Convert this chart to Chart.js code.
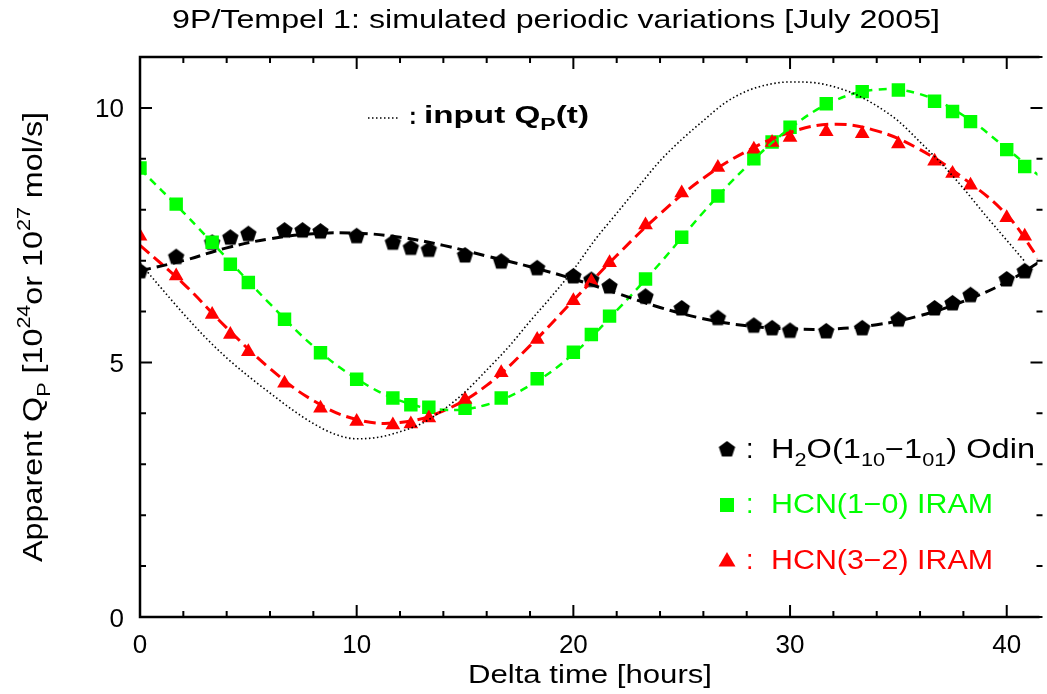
<!DOCTYPE html>
<html>
<head>
<meta charset="utf-8">
<script src="https://cdn.jsdelivr.net/npm/chart.js@4.4.0/dist/chart.umd.min.js"></script>
<style>
  body { margin: 0; background: #fff; }
  canvas { display: block; }
</style>
</head>
<body>
<canvas id="qpChart" width="1047" height="694"></canvas>
<script>
// --- data ---
const h2oTimes = [0, 1.67, 3.33, 4.17, 5.0, 6.67, 7.5, 8.33, 10.0, 11.67, 12.5, 13.33, 15.0, 16.67, 18.33, 20.0, 20.83, 21.67, 23.33, 25.0, 26.67, 28.33, 29.17, 30.0, 31.67, 33.33, 35.0, 36.67, 37.5, 38.33, 40.0, 40.83];
const h2oObs = [6.80, 7.08, 7.36, 7.46, 7.53, 7.60, 7.60, 7.58, 7.49, 7.36, 7.26, 7.22, 7.11, 6.99, 6.86, 6.70, 6.63, 6.50, 6.30, 6.07, 5.88, 5.73, 5.68, 5.63, 5.62, 5.68, 5.85, 6.07, 6.17, 6.33, 6.64, 6.80];

const hcnTimes = [0, 1.67, 3.33, 4.17, 5.0, 6.67, 8.33, 10.0, 11.67, 12.5, 13.33, 15.0, 16.67, 18.33, 20.0, 20.83, 21.67, 23.33, 25.0, 26.67, 28.33, 29.17, 30.0, 31.67, 33.33, 35.0, 36.67, 37.5, 38.33, 40.0, 40.83];
const hcn10Obs = [8.82, 8.11, 7.36, 6.93, 6.57, 5.85, 5.19, 4.67, 4.30, 4.17, 4.12, 4.10, 4.30, 4.68, 5.20, 5.55, 5.91, 6.64, 7.46, 8.27, 9.00, 9.33, 9.62, 10.08, 10.32, 10.35, 10.13, 9.93, 9.73, 9.18, 8.85];
const hcn32Obs = [7.48, 6.70, 5.94, 5.55, 5.21, 4.59, 4.10, 3.84, 3.77, 3.79, 3.91, 4.27, 4.80, 5.45, 6.21, 6.59, 6.96, 7.70, 8.33, 8.83, 9.19, 9.32, 9.42, 9.53, 9.49, 9.29, 8.95, 8.71, 8.48, 7.84, 7.48];

// simulated (dashed) curves
const modelTimes = [0, 2, 4, 6, 8, 10, 12, 14, 16, 18, 20, 22, 24, 26, 28, 30, 32, 34, 36, 38, 40, 41.45];
const h2oModel = [6.80, 7.00, 7.25, 7.43, 7.53, 7.54, 7.46, 7.30, 7.09, 6.88, 6.64, 6.36, 6.08, 5.86, 5.72, 5.66, 5.66, 5.74, 5.92, 6.20, 6.58, 6.96];
const hcn10Model = [8.80, 7.95, 7.05, 6.15, 5.32, 4.68, 4.25, 4.07, 4.17, 4.55, 5.17, 6.02, 6.95, 7.95, 8.85, 9.60, 10.13, 10.36, 10.27, 9.85, 9.20, 8.68];
const hcn32Model = [7.30, 6.55, 5.68, 4.88, 4.25, 3.88, 3.82, 4.05, 4.55, 5.33, 6.22, 7.10, 7.92, 8.62, 9.15, 9.52, 9.68, 9.55, 9.18, 8.62, 7.90, 7.05];

// input Q_P(t) (dotted)
const inputTimes = [0, 1, 2, 3, 4, 5, 6, 7, 8, 9, 10, 11, 12, 13, 14, 15, 16, 17, 18, 19, 20, 21, 22, 23, 24, 25, 26, 27, 28, 29, 30, 31, 32, 33, 34, 35, 36, 37, 38, 39, 40, 40.8];
const inputQp = [6.95, 6.45, 5.96, 5.50, 5.09, 4.73, 4.40, 4.08, 3.80, 3.59, 3.50, 3.53, 3.64, 3.80, 4.07, 4.42, 4.85, 5.30, 5.81, 6.30, 6.82, 7.41, 7.93, 8.45, 8.96, 9.38, 9.75, 10.10, 10.33, 10.46, 10.51, 10.50, 10.42, 10.27, 10.04, 9.74, 9.33, 8.90, 8.42, 7.90, 7.40, 7.00];

// axis ticks
const xMajorTicks = [0, 10, 20, 30, 40];
const yMajorTicks = [0, 5, 10];
const xMinorStep = 2;
const yMinorStep = 1;

const GREEN = '#00ff00';
const RED = '#ff0000';
const FONT = '"Liberation Sans", Arial, sans-serif';

function pts(xs, ys) {
  return xs.map((x, i) => ({ x: x, y: ys[i] }));
}

// pentagon marker as a canvas (Chart.js has no pentagon style)
function makePentagon(R, color) {
  const c = document.createElement('canvas');
  const w = Math.ceil(2 * R * Math.sin(2 * Math.PI / 5)) + 2;
  const h = Math.ceil(R * (1 + Math.cos(Math.PI / 5))) + 2;
  c.width = w; c.height = h;
  const g = c.getContext('2d');
  g.beginPath();
  for (let i = 0; i < 5; i++) {
    const a = -Math.PI / 2 + i * 2 * Math.PI / 5;
    g.lineTo(w / 2 + R * Math.cos(a), 1 + R + R * Math.sin(a));
  }
  g.closePath();
  g.fillStyle = color;
  g.fill();
  return c;
}
const pentagon = makePentagon(8.6, '#000');

// text with sub/superscripts, squeezed to a target width
// parts: [text, shift] with shift 0 normal, -1 subscript, 1 superscript
function drawRich(ctx, parts, x, y, size, color, width, weight) {
  weight = weight || 'normal';
  const fontFor = s => weight + ' ' + (s === 0 ? size : Math.round(size * 0.68)) + 'px ' + FONT;
  let total = 0;
  parts.forEach(p => { ctx.font = fontFor(p[1]); total += ctx.measureText(p[0]).width; });
  const k = width ? width / total : 1;
  ctx.save();
  ctx.translate(x, y);
  ctx.scale(k, 1);
  ctx.fillStyle = color;
  ctx.textBaseline = 'alphabetic';
  ctx.textAlign = 'left';
  let cx = 0;
  parts.forEach(p => {
    ctx.font = fontFor(p[1]);
    const dy = p[1] === -1 ? size * 0.3 : (p[1] === 1 ? -size * 0.45 : 0);
    ctx.fillText(p[0], cx, dy);
    cx += ctx.measureText(p[0]).width;
  });
  ctx.restore();
}

const framePlugin = {
  id: 'frame',
  afterDatasetsDraw(chart) {
    const ctx = chart.ctx;
    const a = chart.chartArea;
    const xs = chart.scales.x, ys = chart.scales.y;
    const rightAxis = a.right + 5;

    ctx.save();
    ctx.strokeStyle = '#000';
    ctx.lineWidth = 2.5;
    ctx.beginPath();
    ctx.moveTo(a.right + 2, a.top); ctx.lineTo(a.left, a.top);
    ctx.lineTo(a.left, a.bottom); ctx.lineTo(a.right + 2, a.bottom);
    ctx.stroke();

    // inward ticks on all four sides
    ctx.lineWidth = 2;
    ctx.beginPath();
    for (let v = 0; v <= xs.max; v += xMinorStep) {
      const px = xs.getPixelForValue(v);
      const len = xMajorTicks.includes(v) ? 12 : 6;
      ctx.moveTo(px, a.bottom); ctx.lineTo(px, a.bottom - len);
      ctx.moveTo(px, a.top); ctx.lineTo(px, a.top + len);
    }
    for (let v = 0; v <= ys.max; v += yMinorStep) {
      const py = ys.getPixelForValue(v);
      const len = yMajorTicks.includes(v) ? 12 : 6;
      ctx.moveTo(a.left, py); ctx.lineTo(a.left + len, py);
      ctx.moveTo(rightAxis, py); ctx.lineTo(rightAxis - len, py);
    }
    ctx.stroke();

    // tick labels
    ctx.fillStyle = '#000';
    ctx.font = '26px ' + FONT;
    ctx.textAlign = 'center';
    ctx.textBaseline = 'alphabetic';
    xMajorTicks.forEach(v => ctx.fillText(String(v), xs.getPixelForValue(v), 653));
    ctx.textAlign = 'right';
    yMajorTicks.forEach(v => ctx.fillText(String(v), 124, ys.getPixelForValue(v) + 9.5));

    // title and axis titles
    drawRich(ctx, [['9P/Tempel 1: simulated periodic variations [July 2005]', 0]], 172, 28, 25, '#000', 768);
    drawRich(ctx, [['Delta time [hours]', 0]], 468, 683, 25, '#000', 244);
    ctx.save();
    ctx.translate(42, 562);
    ctx.rotate(-Math.PI / 2);
    drawRich(ctx, [['Apparent Q', 0], ['P', -1], [' [10', 0], ['24', 1], ['or 10', 0], ['27', 1], [' mol/s]', 0]], 0, 0, 27, '#000', 450);
    ctx.restore();

    // legend: input curve
    ctx.lineWidth = 1.5;
    ctx.setLineDash([1.5, 2.5]);
    ctx.beginPath();
    ctx.moveTo(368, 118); ctx.lineTo(399, 118);
    ctx.stroke();
    ctx.setLineDash([]);
    drawRich(ctx, [[':', 0]], 409, 124, 23, '#000', null, 'bold');
    drawRich(ctx, [['input Q', 0], ['P', -1], ['(t)', 0]], 424, 123, 23, '#000', 165, 'bold');

    // legend: observed series
    ctx.drawImage(pentagon, 727 - pentagon.width / 2, 449 - pentagon.height / 2);
    drawRich(ctx, [[':', 0]], 746, 458, 27, '#000');
    drawRich(ctx, [['H', 0], ['2', -1], ['O(1', 0], ['10', -1], ['\u22121', 0], ['01', -1], [') Odin', 0]], 771, 458, 27, '#000', 264);

    ctx.fillStyle = GREEN;
    ctx.fillRect(720, 498, 14, 14);
    drawRich(ctx, [[':', 0]], 746, 513, 27, GREEN);
    drawRich(ctx, [['HCN(1\u22120) IRAM', 0]], 771, 513, 27, GREEN, 222);

    ctx.fillStyle = RED;
    ctx.beginPath();
    ctx.moveTo(727, 552); ctx.lineTo(735.5, 566.5); ctx.lineTo(718.5, 566.5);
    ctx.closePath(); ctx.fill();
    drawRich(ctx, [[':', 0]], 746, 569, 27, RED);
    drawRich(ctx, [['HCN(3\u22122) IRAM', 0]], 771, 569, 27, RED, 222);
    ctx.restore();
  }
};

const ctx = document.getElementById('qpChart').getContext('2d');
new Chart(ctx, {
  type: 'scatter',
  data: {
    datasets: [
      {
        label: 'input Q_P(t)', data: pts(inputTimes, inputQp), showLine: true,
        borderColor: '#000', borderWidth: 1.6, borderDash: [1.5, 2.5], pointRadius: 0,
        cubicInterpolationMode: 'monotone', order: 0
      },
      {
        label: 'H2O model', data: pts(modelTimes, h2oModel), showLine: true,
        borderColor: '#000', borderWidth: 3, borderDash: [11, 6], pointRadius: 0, tension: 0.4, order: 0
      },
      {
        label: 'HCN(1-0) model', data: pts(modelTimes, hcn10Model), showLine: true,
        borderColor: GREEN, borderWidth: 2.5, borderDash: [8, 6], pointRadius: 0, tension: 0.4, order: 0
      },
      {
        label: 'HCN(3-2) model', data: pts(modelTimes, hcn32Model), showLine: true,
        borderColor: RED, borderWidth: 3, borderDash: [12, 6], pointRadius: 0, tension: 0.4, order: 0
      },
      {
        label: 'HCN(3-2) IRAM', data: pts(hcnTimes, hcn32Obs), showLine: false,
        pointStyle: 'triangle', pointRadius: 8.5, backgroundColor: RED, borderColor: RED, borderWidth: 0, order: 1
      },
      {
        label: 'HCN(1-0) IRAM', data: pts(hcnTimes, hcn10Obs), showLine: false,
        pointStyle: 'rect', pointRadius: 9.5, backgroundColor: GREEN, borderColor: GREEN, borderWidth: 0, order: 2
      },
      {
        label: 'H2O Odin', data: pts(h2oTimes, h2oObs), showLine: false,
        pointStyle: pentagon, pointRadius: 8, order: 3
      }
    ]
  },
  options: {
    responsive: false,
    animation: false,
    events: [],
    layout: { padding: { left: 140, top: 57, right: 0, bottom: 77 } },
    plugins: {
      legend: { display: false },
      tooltip: { enabled: false }
    },
    scales: {
      x: { type: 'linear', min: 0, max: 41.42, display: false },
      y: { type: 'linear', min: 0, max: 11.0, display: false }
    }
  },
  plugins: [framePlugin]
});
</script>
</body>
</html>
